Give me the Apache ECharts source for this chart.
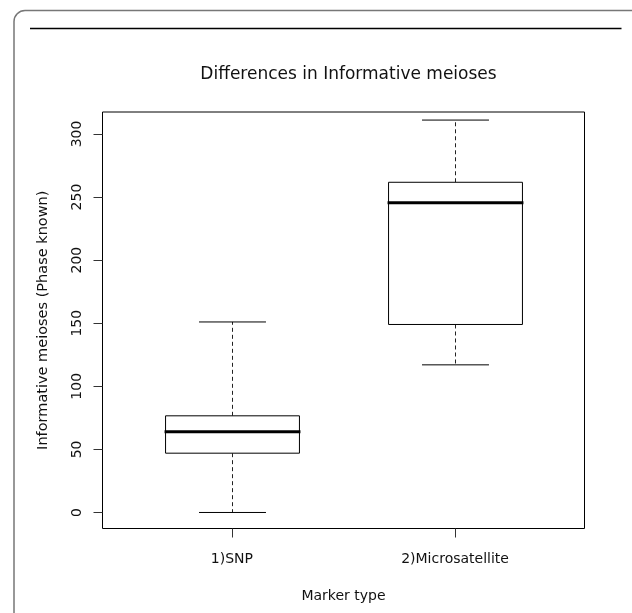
<!DOCTYPE html>
<html>
<head>
<meta charset="utf-8">
<script src="https://cdn.jsdelivr.net/npm/echarts@6/dist/echarts.min.js"></script>
<style>
html,body{margin:0;padding:0;background:#fff;}
#main{width:632px;height:613px;}
</style>
</head>
<body>
<div id="main"></div>
<script>
// Data
const categories = ['1)SNP', '2)Microsatellite'];
const positions = [1, 2];
const mins = [0, 117];
const q1s = [47, 149];
const medians = [64, 245.5];
const q3s = [76.6, 261.7];
const maxs = [151, 311];
const yTicks = [0, 50, 100, 150, 200, 250, 300];

const seriesData = positions.map((p, i) => [p, mins[i], q1s[i], medians[i], q3s[i], maxs[i]]);

const chart = echarts.init(document.getElementById('main'), null, {renderer: 'canvas'});
const font = '"DejaVu Sans", Verdana, sans-serif';

function renderItem(params, api) {
  const x = api.value(0);
  const vMin = api.value(1), vQ1 = api.value(2), vMed = api.value(3), vQ3 = api.value(4), vMax = api.value(5);
  const boxW = api.size([0.6, 0])[0];
  const capW = api.size([0.3, 0])[0];
  const c = api.coord([x, vMed]);
  const cx = Math.round(c[0]) + 0.5;
  const yMin = api.coord([x, vMin])[1];
  const yQ1 = api.coord([x, vQ1])[1];
  const yMed = c[1];
  const yQ3 = api.coord([x, vQ3])[1];
  const yMax = api.coord([x, vMax])[1];
  const dash = {stroke: '#222', lineWidth: 1, lineDash: [4, 3]};
  const solid = {stroke: '#000', lineWidth: 1};
  return {
    type: 'group',
    children: [
      {type: 'line', shape: {x1: cx, y1: yQ3, x2: cx, y2: yMax}, style: dash},
      {type: 'line', shape: {x1: cx, y1: yQ1, x2: cx, y2: yMin}, style: dash},
      {type: 'line', shape: {x1: cx - capW / 2, y1: yMax, x2: cx + capW / 2, y2: yMax}, style: solid},
      {type: 'line', shape: {x1: cx - capW / 2, y1: yMin, x2: cx + capW / 2, y2: yMin}, style: solid},
      {type: 'rect', shape: {x: cx - boxW / 2, y: yQ3, width: boxW, height: yQ1 - yQ3}, style: {fill: '#fff', stroke: '#000', lineWidth: 1}},
      {type: 'line', shape: {x1: cx - boxW / 2 - 1, y1: yMed, x2: cx + boxW / 2 + 1, y2: yMed}, style: {stroke: '#000', lineWidth: 3}}
    ]
  };
}

const option = {
  backgroundColor: '#fff',
  animation: false,
  title: {
    text: 'Differences in Informative meioses',
    left: 343.5,
    textAlign: 'center',
    top: 61,
    textStyle: {fontFamily: font, fontSize: 17, fontWeight: 'normal', color: '#111'}
  },
  graphic: [
    {type: 'rect', shape: {x: 14, y: 10.5, width: 640, height: 640, r: 11}, style: {fill: 'none', stroke: '#777', lineWidth: 1.5}, silent: true},
    {type: 'line', shape: {x1: 30, y1: 28.5, x2: 621.5, y2: 28.5}, style: {stroke: '#000', lineWidth: 1.5}, silent: true}
  ],
  grid: {
    left: 102.5, right: 47.5, top: 112, bottom: 84.5,
    show: true, borderColor: '#000', borderWidth: 1, backgroundColor: 'transparent'
  },
  xAxis: {
    type: 'value',
    min: 0.42, max: 2.58,
    name: 'Marker type',
    nameLocation: 'middle',
    nameGap: 61,
    nameTextStyle: {fontFamily: font, fontSize: 14, color: '#111'},
    axisLine: {show: false, onZero: false},
    splitLine: {show: false},
    axisTick: {show: true, length: 9, lineStyle: {color: '#333'}, customValues: positions},
    axisLabel: {
      fontFamily: font, fontSize: 14, color: '#111', margin: 24,
      customValues: positions,
      formatter: v => categories[positions.indexOf(v)] || ''
    }
  },
  yAxis: {
    type: 'value',
    min: -12.7, max: 317.4,
    name: 'Informative meioses (Phase known)',
    nameLocation: 'middle',
    nameGap: 52,
    nameTextStyle: {fontFamily: font, fontSize: 14.5, color: '#111'},
    axisLine: {show: false, onZero: false},
    splitLine: {show: false},
    axisTick: {show: true, length: 9, lineStyle: {color: '#333'}, customValues: yTicks},
    axisLabel: {
      fontFamily: font, fontSize: 14, color: '#111', margin: 18, rotate: 90,
      customValues: yTicks
    }
  },
  series: [{
    type: 'custom',
    renderItem: renderItem,
    data: seriesData,
    encode: {x: 0, y: [1, 2, 3, 4, 5]}
  }]
};
chart.setOption(option);
</script>
</body>
</html>
